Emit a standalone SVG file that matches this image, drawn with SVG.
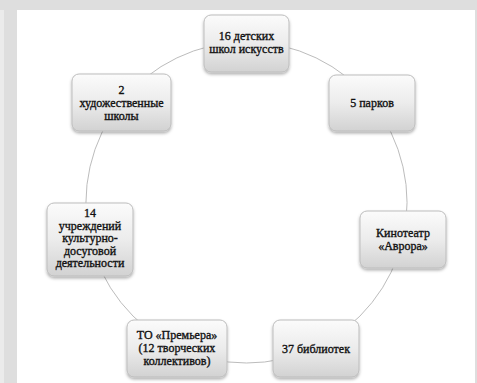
<svg xmlns="http://www.w3.org/2000/svg" width="477" height="383" viewBox="0 0 477 383">
<defs>
<linearGradient id="g" x1="0" y1="0" x2="0" y2="1">
<stop offset="0" stop-color="#fbfbfb"/>
<stop offset="0.5" stop-color="#ececec"/>
<stop offset="1" stop-color="#d2d2d2"/>
</linearGradient>
<filter id="sh" x="-20%" y="-20%" width="140%" height="150%">
<feDropShadow dx="0" dy="2" stdDeviation="1.5" flood-color="#000" flood-opacity="0.3"/>
</filter>
</defs>
<style>
.box{fill:url(#g);stroke:#bdbdbd;stroke-width:1;filter:url(#sh)}
.t{font-size:12px;fill:#111111;stroke:#111111;stroke-width:0.35;text-anchor:middle}
.c{fill:none;stroke:#bcbcbc;stroke-width:1}
</style>
<rect width="477" height="383" fill="#dedede"/>
<rect x="0" y="10" width="4" height="373" fill="#ebebeb"/>
<rect x="17" y="10" width="458" height="373" fill="#ffffff"/>
<g id="connectors">
<path class="c" d="M246.5 42 A160.5 160.5 0 0 1 371.98 102.43"/>
<path class="c" d="M371.98 102.43 A160.5 160.5 0 0 1 402.98 238.22"/>
<path class="c" d="M402.98 238.22 A160.5 160.5 0 0 1 316.14 347.11"/>
<path class="c" d="M316.14 347.11 A160.5 160.5 0 0 1 176.86 347.11"/>
<path class="c" d="M176.86 347.11 A160.5 160.5 0 0 1 90.02 238.22"/>
<path class="c" d="M90.02 238.22 A160.5 160.5 0 0 1 121.02 102.43"/>
<path class="c" d="M121.02 102.43 A160.5 160.5 0 0 1 246.5 42"/>
</g>
<g font-family="'Liberation Serif', 'DejaVu Serif', serif">
<g id="n1">
<rect class="box" x="204" y="15" width="85" height="57" rx="7"/>
<text class="t" x="246.5" y="40">16 детских</text>
<text class="t" x="246.5" y="53">школ искусств</text>
</g>
<g id="n2">
<rect class="box" x="329" y="75" width="86" height="56" rx="7"/>
<text class="t" x="372" y="107">5 парков</text>
</g>
<g id="n3">
<rect class="box" x="360" y="211" width="86" height="57" rx="7"/>
<text class="t" x="403" y="237">Кинотеатр</text>
<text class="t" x="403" y="250">«Аврора»</text>
</g>
<g id="n4">
<rect class="box" x="273" y="320" width="86" height="57" rx="7"/>
<text class="t" x="316" y="353">37 библиотек</text>
</g>
<g id="n5">
<rect class="box" x="127" y="320" width="100" height="57" rx="7"/>
<text class="t" x="177" y="339">ТО «Премьера»</text>
<text class="t" x="177" y="352">(12 творческих</text>
<text class="t" x="177" y="365">коллективов)</text>
</g>
<g id="n6">
<rect class="box" x="47" y="203" width="86" height="73" rx="7"/>
<text class="t" x="90" y="217">14</text>
<text class="t" x="90" y="229.5">учреждений</text>
<text class="t" x="90" y="242">культурно-</text>
<text class="t" x="90" y="254.5">досуговой</text>
<text class="t" x="90" y="267">деятельности</text>
</g>
<g id="n7">
<rect class="box" x="72" y="74" width="99" height="57" rx="7"/>
<text class="t" x="121.5" y="94">2</text>
<text class="t" x="121.5" y="107">художественные</text>
<text class="t" x="121.5" y="120">школы</text>
</g>
</g>
</svg>
